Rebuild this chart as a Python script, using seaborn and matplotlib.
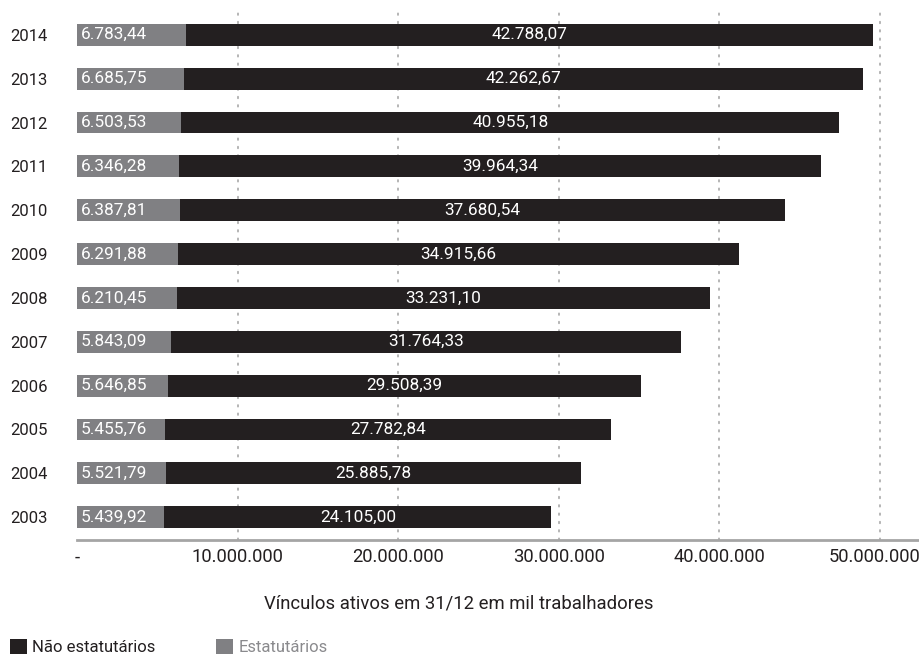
import matplotlib
matplotlib.use("Agg")
import matplotlib.pyplot as plt
import matplotlib.transforms as mtransforms
from matplotlib.patches import Patch
import seaborn as sns
import pandas as pd

# Vínculos ativos em 31/12 (mil trabalhadores)
anos = ["2014", "2013", "2012", "2011", "2010", "2009",
        "2008", "2007", "2006", "2005", "2004", "2003"]
estatutarios = [6783.44, 6685.75, 6503.53, 6346.28, 6387.81, 6291.88,
                6210.45, 5843.09, 5646.85, 5455.76, 5521.79, 5439.92]
nao_estatutarios = [42788.07, 42262.67, 40955.18, 39964.34, 37680.54, 34915.66,
                    33231.10, 31764.33, 29508.39, 27782.84, 25885.78, 24105.00]
x_ticks = [0, 10_000_000, 20_000_000, 30_000_000, 40_000_000, 50_000_000]

PRETO = "#231f20"
CINZA = "#808083"

sns.set_style("white")
plt.rcParams["font.family"] = ["Roboto", "DejaVu Sans"]

df = pd.DataFrame({"ano": anos, "estat": estatutarios, "nao": nao_estatutarios})
df["estat_abs"] = df["estat"] * 1000
df["total_abs"] = (df["estat"] + df["nao"]) * 1000


def br(v, dec=2):
    s = f"{v:,.{dec}f}"
    return s.replace(",", "X").replace(".", ",").replace("X", ".")


fig = plt.figure(figsize=(9.2, 6.56), dpi=100)
ax = fig.add_axes([77 / 920, 1 - 540 / 656, 1 - 77 / 920, (540 - 12) / 656])

sns.barplot(data=df, y="ano", x="total_abs", order=anos, color=PRETO,
            saturation=1, width=0.5, linewidth=0, orient="h", ax=ax, zorder=3)
sns.barplot(data=df, y="ano", x="estat_abs", order=anos, color=CINZA,
            saturation=1, width=0.5, linewidth=0, orient="h", ax=ax, zorder=4)

for i, row in df.iterrows():
    ax.text(250_000, i, br(row["estat"]), color="white",
            ha="left", va="center", fontsize=12.4, zorder=5)
    mid = (row["estat_abs"] + row["total_abs"]) / 2
    ax.text(mid, i, br(row["nao"]), color="white", ha="center", va="center",
            fontsize=12.4, zorder=5)

ax.set_xlim(0, 52_500_000)
ax.set_ylim(len(anos) - 1 + 0.52, -0.52)
ax.set_xticks(x_ticks)
ax.set_xticklabels(["-"] + [br(v, 0) for v in x_ticks[1:]])
ax.set_xlabel("")
ax.set_ylabel("")

ax.xaxis.grid(True, color="#a8a8a8", linewidth=1.2, linestyle=(0, (1, 4)),
              dash_capstyle="round")
ax.get_xgridlines()[0].set_visible(False)
ax.yaxis.grid(False)
ax.set_axisbelow(True)

for s in ["left", "top", "right"]:
    ax.spines[s].set_visible(False)
ax.spines["bottom"].set_color("#a5a5a5")
ax.spines["bottom"].set_linewidth(2)

ax.tick_params(axis="x", length=0, pad=6, labelsize=13.2, labelcolor=PRETO)
ax.tick_params(axis="y", length=0, pad=21, labelsize=12, labelcolor=PRETO)

# keep the last tick label inside the figure edge
last = ax.get_xticklabels()[-1]
last.set_transform(last.get_transform() +
                   mtransforms.ScaledTranslation(-5 / 100, 0, fig.dpi_scale_trans))

fig.text(0.499, 1 - 603 / 656, "Vínculos ativos em 31/12 em mil trabalhadores",
         ha="center", va="center", fontsize=13.3, color=PRETO)

handles = [Patch(facecolor=PRETO, edgecolor="none", label="Não estatutários"),
           Patch(facecolor=CINZA, edgecolor="none", label="Estatutários")]
leg = fig.legend(handles=handles, loc="lower left", ncol=2,
                 bbox_to_anchor=(0.0, -0.014), frameon=False, fontsize=12,
                 handlelength=1.0, handleheight=1.0, handletextpad=0.35,
                 columnspacing=3.6, borderaxespad=0.2)
leg.get_texts()[0].set_color(PRETO)
leg.get_texts()[1].set_color("#8a8a8d")

fig.savefig("out.png", dpi=100)
